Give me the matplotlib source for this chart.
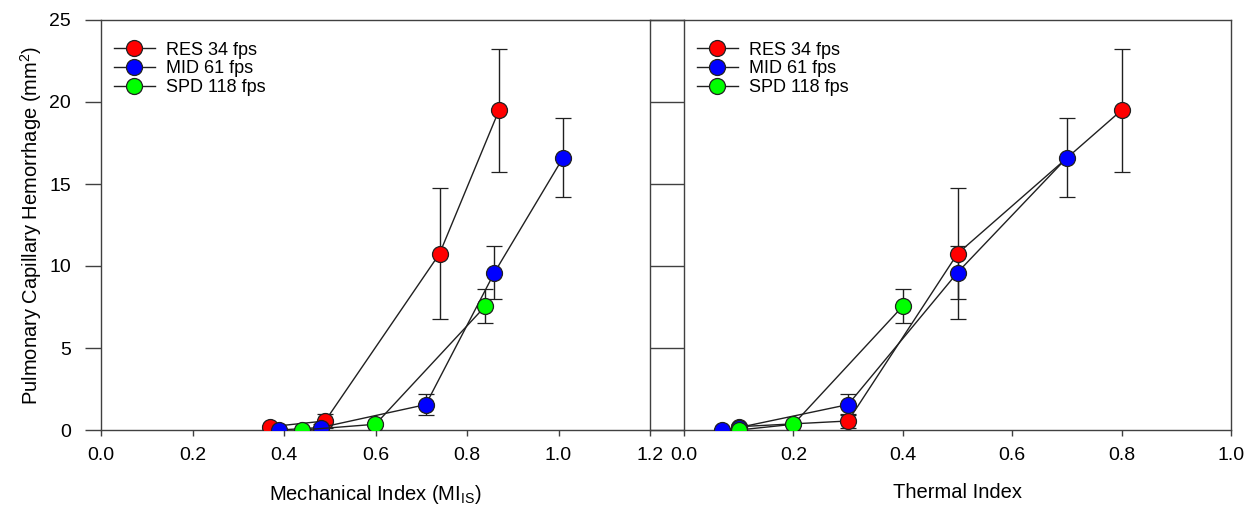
import numpy as np
import matplotlib.pyplot as plt
from matplotlib.lines import Line2D

plt.rcParams['font.family'] = ['Liberation Sans', 'DejaVu Sans']

# Mechanical index panel
mi_res = [0.37, 0.49, 0.74, 0.87]
hem_res = [0.2, 0.55, 10.75, 19.5]
err_res = [0.0, 0.4, 4.0, 3.75]

mi_mid = [0.39, 0.48, 0.71, 0.86, 1.01]
hem_mid = [0.0, 0.15, 1.55, 9.6, 16.6]
err_mid = [0.0, 0.2, 0.65, 1.6, 2.4]

mi_spd = [0.44, 0.60, 0.84]
hem_spd = [0.0, 0.35, 7.55]
err_spd = [0.0, 0.1, 1.05]

# Thermal index panel
ti_res = [0.1, 0.3, 0.5, 0.8]
ti_mid = [0.07, 0.1, 0.3, 0.5, 0.7]
ti_spd = [0.1, 0.2, 0.4]

labels = ["RES 34 fps", "MID 61 fps", "SPD 118 fps"]
colors = ["#ff0000", "#0000ff", "#00ff00"]
edge = "#202020"

fig = plt.figure(figsize=(12.59, 5.11), dpi=100)
W, H = 1259, 511
bot, top = (H - 430) / H, (H - 20) / H
ax1 = fig.add_axes([101 / W, bot, (650 - 101) / W, top - bot])
ax2 = fig.add_axes([684 / W, bot, (1231 - 684) / W, top - bot])

def draw(ax, xs_list, ys_list, es_list):
    handles = []
    for xs, ys, es, c, lab in zip(xs_list, ys_list, es_list, colors, labels):
        ax.errorbar(xs, ys, yerr=es, color=edge, lw=1, ecolor=edge,
                    elinewidth=1, capsize=5.5, capthick=1, marker='o',
                    markersize=11.5, markerfacecolor=c, markeredgecolor=edge,
                    markeredgewidth=0.9, zorder=3)
        handles.append(Line2D([], [], color=edge, lw=1, marker='o',
                              markersize=11.5, markerfacecolor=c,
                              markeredgecolor=edge, markeredgewidth=0.9,
                              label=lab))
    ax.set_ylim(0, 25)
    ax.set_yticks([0, 5, 10, 15, 20, 25])
    for s in ax.spines.values():
        s.set_color('#404040')
        s.set_linewidth(1)
    ax.tick_params(axis='x', direction='out', length=4.5, width=1,
                   color='#404040', labelsize=14, pad=7.5)
    ax.tick_params(axis='y', direction='out', length=11.5, width=1,
                   color='#404040', labelsize=14, pad=10)
    ax.legend(handles=handles, loc='upper left', frameon=False, fontsize=13,
              handlelength=2.3, handletextpad=0.6, labelspacing=0.1,
              borderaxespad=0.3, bbox_to_anchor=(0.0, 0.978))

draw(ax1, [mi_res, mi_mid, mi_spd], [hem_res, hem_mid, hem_spd],
     [err_res, err_mid, err_spd])
draw(ax2, [ti_res, ti_mid, ti_spd], [hem_res, hem_mid, hem_spd],
     [err_res, err_mid, err_spd])

ax1.set_xlim(0, 1.2)
ax1.set_xticks(np.arange(0, 1.21, 0.2))
ax1.set_xticklabels([f"{v:.1f}" for v in np.arange(0, 1.21, 0.2)])
ax1.set_xlabel("Mechanical Index (MI$_{\\mathregular{IS}}$)", fontsize=14.5, labelpad=14)
ax1.set_ylabel("Pulmonary Capillary Hemorrhage (mm$^{\\mathregular{2}}$)", fontsize=14.5, labelpad=4)

ax2.set_xlim(0, 1.0)
ax2.set_xticks(np.arange(0, 1.01, 0.2))
ax2.set_xticklabels([f"{v:.1f}" for v in np.arange(0, 1.01, 0.2)])
ax2.set_xlabel("Thermal Index", fontsize=14.5, labelpad=14)
ax2.tick_params(axis='y', length=24.5, labelleft=False)

# connect the frames between the panels
for yy in (bot, top):
    fig.add_artist(Line2D([650 / W, 684 / W], [yy, yy], color='#404040', lw=1))

fig.savefig("out.png", dpi=100)
